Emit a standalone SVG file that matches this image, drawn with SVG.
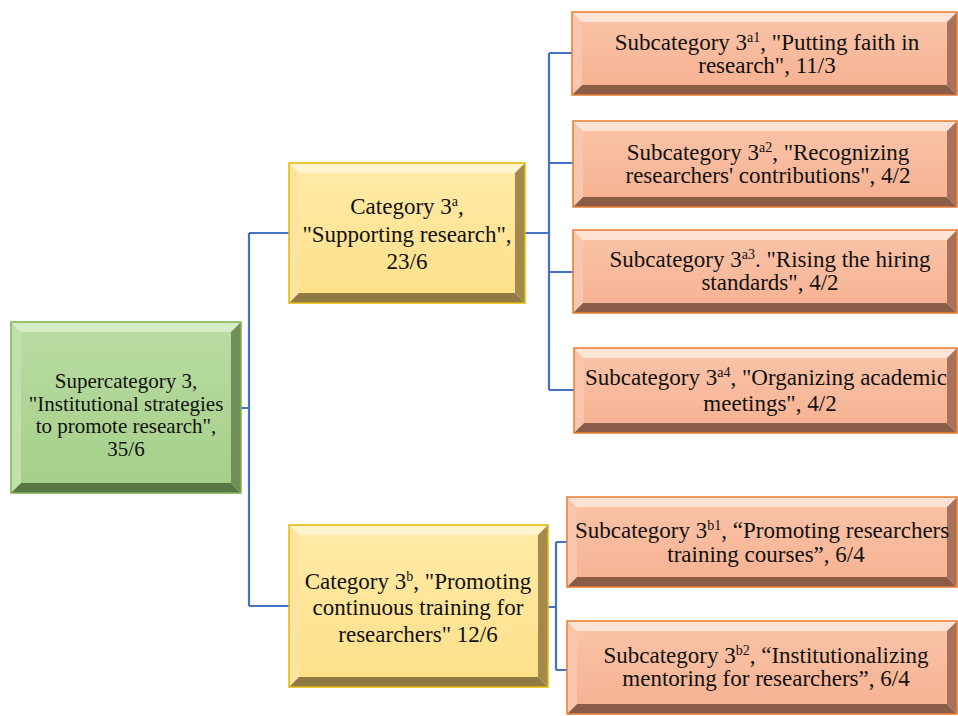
<svg xmlns="http://www.w3.org/2000/svg" width="958" height="716" viewBox="0 0 958 716">
<style>
text{font-family:'Liberation Serif','Times New Roman',Tinos,'Nimbus Roman','Nimbus Roman No9 L',FreeSerif,'Noto Serif','DejaVu Serif',Georgia,serif;font-size:23px;fill:#111;text-anchor:middle}
.st{text-anchor:start}
.sup{font-size:14px}
.sm{font-size:21px}
.conn{fill:none;stroke:#4472c4;stroke-width:2.2}
.g .bd{fill:none;stroke:#7fb04f;stroke-width:1.5}
.g .face{fill:url(#gFace)}
.g .t{fill:#d6ecc6}.g .l{fill:#c2e0ab}.g .r{fill:#6e8f57}.g .b{fill:#587745}
.y .bd{fill:none;stroke:#e3b600;stroke-width:1.5}
.y .face{fill:url(#yFace)}
.y .t{fill:#fff4cc}.y .l{fill:#fbe3a0}.y .r{fill:#a4894c}.y .b{fill:#8f7a45}
.o .bd{fill:none;stroke:#e97b2e;stroke-width:1.5}
.o .face{fill:url(#oFace)}
.o .t{fill:#fde3d4}.o .l{fill:#f7c6ac}.o .r{fill:#a9705a}.o .b{fill:#8b5c48}
</style>
<defs>
<linearGradient id="gFace" x1="0" y1="0" x2="0" y2="1"><stop offset="0" stop-color="#b9dca2"/><stop offset="1" stop-color="#a5cf89"/></linearGradient>
<linearGradient id="yFace" x1="0" y1="0" x2="0" y2="1"><stop offset="0" stop-color="#ffeaa6"/><stop offset="1" stop-color="#fde08a"/></linearGradient>
<linearGradient id="oFace" x1="0" y1="0" x2="0" y2="1"><stop offset="0" stop-color="#fac2a6"/><stop offset="1" stop-color="#f6b393"/></linearGradient>
</defs>

<g id="connectors">
<path class="conn" d="M241 408H249M249 233V606M249 233H289M249 606H289"/>
<path class="conn" d="M525 233H549M549 53V390M549 53H572M549 163H573M549 272H573M549 390H574"/>
<path class="conn" d="M548 607H556M556 542V670M556 542H567M556 670H567"/>
</g>

<g id="super" class="g">
<polygon class="t" points="11,322 241,322 231,332 21,332"/>
<polygon class="l" points="11,322 21,332 21,483 11,493"/>
<polygon class="r" points="241,322 241,493 231,483 231,332"/>
<polygon class="b" points="11,493 241,493 231,483 21,483"/>
<rect class="face" x="21" y="332" width="210" height="151"/>
<rect class="bd" x="11" y="322" width="230" height="171"/>
<text class="sm" x="126" y="388">Supercategory 3,</text>
<text class="sm" x="126" y="410.5">"Institutional strategies</text>
<text class="sm" x="126" y="433">to promote research",</text>
<text class="sm" x="126" y="455.5">35/6</text>
</g>

<g id="catA" class="y">
<polygon class="t" points="289,163 525,163 515,173 299,173"/>
<polygon class="l" points="289,163 299,173 299,293 289,303"/>
<polygon class="r" points="525,163 525,303 515,293 515,173"/>
<polygon class="b" points="289,303 525,303 515,293 299,293"/>
<rect class="face" x="299" y="173" width="216" height="120"/>
<rect class="bd" x="289" y="163" width="236" height="140"/>
<text x="407" y="214">Category 3<tspan class="sup" dy="-8">a</tspan><tspan dy="8">,</tspan></text>
<text x="407" y="242">"Supporting research",</text>
<text x="407" y="269">23/6</text>
</g>

<g id="catB" class="y">
<polygon class="t" points="289,525 548,525 538,535 299,535"/>
<polygon class="l" points="289,525 299,535 299,677 289,687"/>
<polygon class="r" points="548,525 548,687 538,677 538,535"/>
<polygon class="b" points="289,687 548,687 538,677 299,677"/>
<rect class="face" x="299" y="535" width="239" height="142"/>
<rect class="bd" x="289" y="525" width="259" height="162"/>
<text x="418" y="589">Category 3<tspan class="sup" dy="-8">b</tspan><tspan dy="8">, "Promoting</tspan></text>
<text x="418" y="615">continuous training for</text>
<text x="418" y="642">researchers" 12/6</text>
</g>

<g id="subA1" class="o">
<polygon class="t" points="572,12 957,12 947,22 582,22"/>
<polygon class="l" points="572,12 582,22 582,85 572,95"/>
<polygon class="r" points="957,12 957,95 947,85 947,22"/>
<polygon class="b" points="572,95 957,95 947,85 582,85"/>
<rect class="face" x="582" y="22" width="365" height="63"/>
<rect class="bd" x="572" y="12" width="385" height="83"/>
<text x="767" y="50">Subcategory 3<tspan class="sup" dy="-8">a1</tspan><tspan dy="8">, "Putting faith in</tspan></text>
<text x="767" y="73">research", 11/3</text>
</g>

<g id="subA2" class="o">
<polygon class="t" points="573,121 957,121 947,131 583,131"/>
<polygon class="l" points="573,121 583,131 583,197 573,207"/>
<polygon class="r" points="957,121 957,207 947,197 947,131"/>
<polygon class="b" points="573,207 957,207 947,197 583,197"/>
<rect class="face" x="583" y="131" width="364" height="66"/>
<rect class="bd" x="573" y="121" width="384" height="86"/>
<text x="768" y="160">Subcategory 3<tspan class="sup" dy="-8">a2</tspan><tspan dy="8">, "Recognizing</tspan></text>
<text x="768" y="183">researchers' contributions", 4/2</text>
</g>

<g id="subA3" class="o">
<polygon class="t" points="573,230 957,230 947,240 583,240"/>
<polygon class="l" points="573,230 583,240 583,303 573,313"/>
<polygon class="r" points="957,230 957,313 947,303 947,240"/>
<polygon class="b" points="573,313 957,313 947,303 583,303"/>
<rect class="face" x="583" y="240" width="364" height="63"/>
<rect class="bd" x="573" y="230" width="384" height="83"/>
<text x="770" y="267">Subcategory 3<tspan class="sup" dy="-8">a3</tspan><tspan dy="8">. "Rising the hiring</tspan></text>
<text x="770" y="290">standards", 4/2</text>
</g>

<g id="subA4" class="o">
<polygon class="t" points="574,348 957,348 947,358 584,358"/>
<polygon class="l" points="574,348 584,358 584,423 574,433"/>
<polygon class="r" points="957,348 957,433 947,423 947,358"/>
<polygon class="b" points="574,433 957,433 947,423 584,423"/>
<rect class="face" x="584" y="358" width="363" height="65"/>
<rect class="bd" x="574" y="348" width="383" height="85"/>
<text class="st" x="585" y="385">Subcategory 3<tspan class="sup" dy="-8">a4</tspan><tspan dy="8">, "Organizing academic</tspan></text>
<text x="770" y="411">meetings", 4/2</text>
</g>

<g id="subB1" class="o">
<polygon class="t" points="567,497 957,497 947,507 577,507"/>
<polygon class="l" points="567,497 577,507 577,577 567,587"/>
<polygon class="r" points="957,497 957,587 947,577 947,507"/>
<polygon class="b" points="567,587 957,587 947,577 577,577"/>
<rect class="face" x="577" y="507" width="370" height="70"/>
<rect class="bd" x="567" y="497" width="390" height="90"/>
<text class="st" x="575" y="538">Subcategory 3<tspan class="sup" dy="-8">b1</tspan><tspan dy="8">, “Promoting researchers</tspan></text>
<text x="766" y="562">training courses”, 6/4</text>
</g>

<g id="subB2" class="o">
<polygon class="t" points="567,621 957,621 947,631 577,631"/>
<polygon class="l" points="567,621 577,631 577,704 567,714"/>
<polygon class="r" points="957,621 957,714 947,704 947,631"/>
<polygon class="b" points="567,714 957,714 947,704 577,704"/>
<rect class="face" x="577" y="631" width="370" height="73"/>
<rect class="bd" x="567" y="621" width="390" height="93"/>
<text x="766" y="663">Subcategory 3<tspan class="sup" dy="-8">b2</tspan><tspan dy="8">, “Institutionalizing</tspan></text>
<text x="766" y="686">mentoring for researchers”,  6/4</text>
</g>
</svg>
